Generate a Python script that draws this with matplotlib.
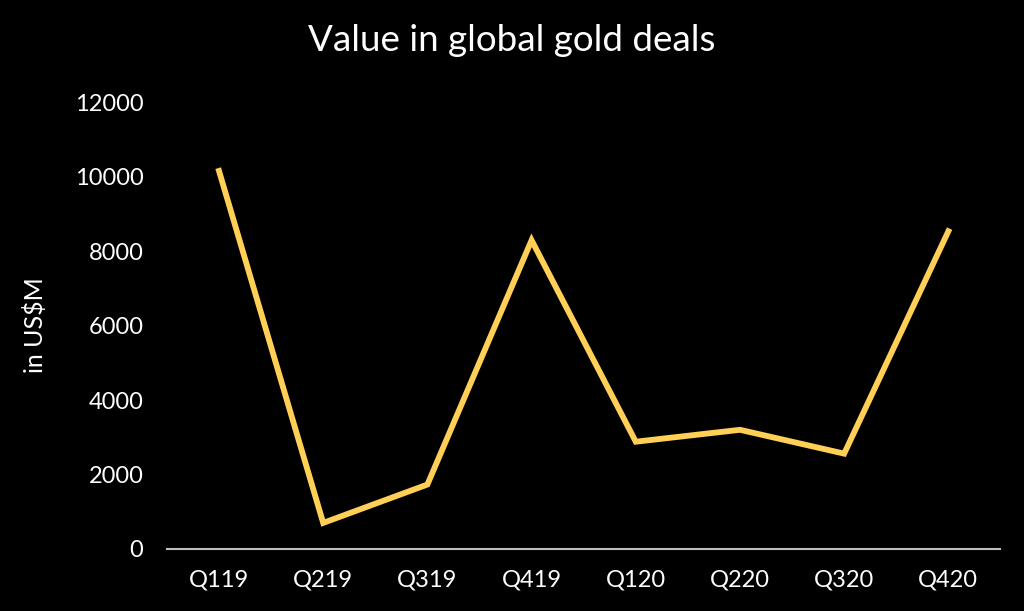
import matplotlib.pyplot as plt

quarters = ["Q119", "Q219", "Q319", "Q419", "Q120", "Q220", "Q320", "Q420"]
deal_values = [10150, 700, 1730, 8290, 2880, 3200, 2560, 8530]

plt.rcParams['font.family'] = ['Lato', 'DejaVu Sans']

fig = plt.figure(figsize=(10.24, 6.11), dpi=100, facecolor='black')
ax = fig.add_axes([0.163, 0.1015, 0.814, 0.7315], facecolor='black')

ax.plot(range(len(quarters)), deal_values, color='#FFCF56', linewidth=4.2,
        solid_joinstyle='miter')

ax.set_xlim(-0.5, len(quarters) - 0.5)
ax.set_ylim(0, 12000)
ax.set_yticks(range(0, 12001, 2000))
ax.set_xticks(range(len(quarters)))
ax.set_xticklabels(quarters)

for side in ['top', 'right', 'left']:
    ax.spines[side].set_visible(False)
ax.spines['bottom'].set_color('#BFBFBF')
ax.spines['bottom'].set_linewidth(1.5)

ax.tick_params(axis='both', length=0, colors='white', labelsize=17)
ax.tick_params(axis='y', pad=17)
ax.tick_params(axis='x', pad=15)

ax.set_ylabel("in US$M", color='white', fontsize=18, labelpad=20)
fig.suptitle("Value in global gold deals", color='white', fontsize=26.5, y=0.96)

fig.savefig("out.png", dpi=100, facecolor='black')
